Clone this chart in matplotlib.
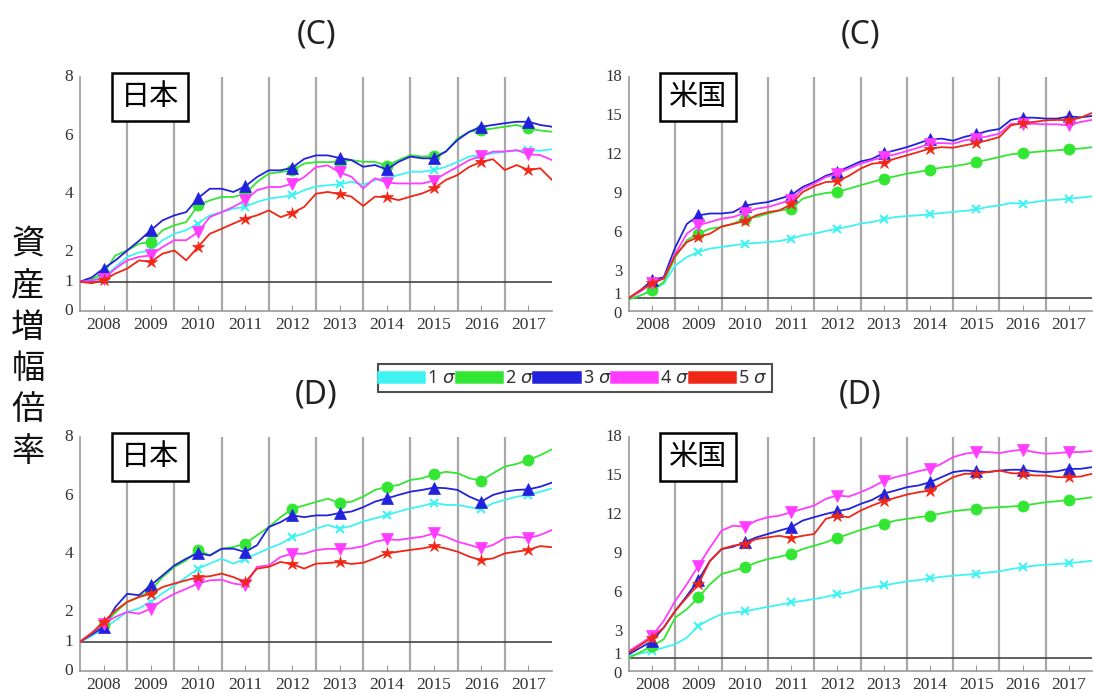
import numpy as np
import matplotlib
matplotlib.use("Agg")
import matplotlib.pyplot as plt
from matplotlib.lines import Line2D
from matplotlib import font_manager

# ---------------- data (quarterly readings, 2007.5 .. 2017.5) ----------------
years = [2007.5 + 0.25 * i for i in range(41)]
year_ticks = [2008, 2009, 2010, 2011, 2012, 2013, 2014, 2015, 2016, 2017]
series_labels = ["1σ", "2σ", "3σ", "4σ", "5σ"]

# (C) Japan
jp_c_1 = [1.0, 1.08, 1.16, 1.5, 1.85, 2.0, 2.07, 2.42, 2.64, 2.76, 2.99, 3.27, 3.38, 3.5,
          3.56, 3.73, 3.84, 3.9, 3.95, 4.13, 4.26, 4.3, 4.33, 4.42, 4.31, 4.48, 4.54, 4.65,
          4.76, 4.76, 4.82, 4.93, 5.1, 5.28, 5.33, 5.39, 5.45, 5.48, 5.5, 5.48, 5.53]
jp_c_2 = [1.0, 1.1, 1.28, 1.9, 2.07, 2.3, 2.36, 2.76, 2.93, 3.04, 3.61, 3.78, 3.9, 3.9,
          4.01, 4.41, 4.7, 4.75, 4.81, 5.04, 5.09, 5.09, 5.1, 5.16, 5.1, 5.1, 4.96, 5.16,
          5.33, 5.28, 5.3, 5.45, 5.9, 6.13, 6.19, 6.24, 6.3, 6.36, 6.24, 6.17, 6.13]
jp_c_3 = [1.0, 1.15, 1.45, 1.73, 2.07, 2.4, 2.76, 3.1, 3.27, 3.38, 3.86, 4.18, 4.18, 4.07,
          4.26, 4.58, 4.81, 4.81, 4.9, 5.2, 5.32, 5.32, 5.23, 5.16, 4.93, 4.99, 4.84, 5.1,
          5.28, 5.22, 5.22, 5.45, 5.85, 6.13, 6.3, 6.36, 6.42, 6.47, 6.47, 6.36, 6.3]
jp_c_4 = [1.0, 1.05, 1.1, 1.45, 1.73, 1.85, 1.9, 2.19, 2.42, 2.42, 2.7, 3.21, 3.38, 3.56,
          3.78, 4.13, 4.24, 4.24, 4.35, 4.58, 4.92, 4.98, 4.74, 4.59, 4.19, 4.54, 4.39, 4.36,
          4.36, 4.36, 4.46, 4.71, 4.93, 5.16, 5.3, 5.45, 5.45, 5.5, 5.36, 5.33, 5.16]
jp_c_5 = [1.0, 0.95, 1.05, 1.28, 1.45, 1.73, 1.68, 1.96, 2.07, 1.73, 2.19, 2.64, 2.81, 2.99,
          3.16, 3.27, 3.44, 3.21, 3.35, 3.56, 4.01, 4.07, 4.0, 3.91, 3.59, 3.91, 3.89, 3.79,
          3.91, 4.02, 4.19, 4.48, 4.65, 4.93, 5.1, 5.19, 4.82, 4.99, 4.82, 4.88, 4.48]

# (C) USA
us_c_1 = [0.9, 1.2, 1.6, 2.1, 3.5, 4.15, 4.54, 4.8, 4.92, 5.05, 5.18, 5.23, 5.3, 5.38,
          5.56, 5.82, 5.95, 6.15, 6.33, 6.5, 6.72, 6.85, 7.05, 7.23, 7.3, 7.36, 7.44, 7.54,
          7.62, 7.7, 7.82, 8.0, 8.13, 8.3, 8.26, 8.38, 8.5, 8.56, 8.64, 8.72, 8.82]
us_c_2 = [0.9, 1.2, 1.6, 2.23, 4.15, 5.44, 5.95, 6.33, 6.46, 6.72, 7.1, 7.23, 7.49, 7.74,
          7.82, 8.64, 8.9, 9.08, 9.15, 9.41, 9.67, 9.92, 10.18, 10.36, 10.56, 10.7, 10.87, 11.03,
          11.13, 11.28, 11.46, 11.64, 11.85, 12.05, 12.15, 12.23, 12.3, 12.36, 12.44, 12.5, 12.6]
us_c_3 = [1.0, 1.6, 2.36, 2.6, 4.9, 6.7, 7.36, 7.5, 7.5, 7.6, 8.1, 8.26, 8.38, 8.64,
          8.9, 9.54, 9.92, 10.4, 10.7, 11.1, 11.5, 11.7, 12.15, 12.36, 12.6, 12.9, 13.2, 13.26,
          13.1, 13.4, 13.6, 13.85, 14.0, 14.7, 14.87, 14.87, 14.8, 14.8, 14.97, 14.9, 15.0]
us_c_4 = [1.0, 1.5, 2.15, 2.5, 4.4, 5.95, 6.6, 6.85, 7.1, 7.23, 7.54, 7.87, 8.0, 8.26,
          8.56, 9.4, 9.8, 10.3, 10.56, 10.95, 11.33, 11.6, 11.85, 12.05, 12.3, 12.56, 12.87, 12.92,
          12.87, 13.13, 13.26, 13.44, 13.64, 14.4, 14.4, 14.4, 14.36, 14.36, 14.28, 14.54, 14.7]
us_c_5 = [1.0, 1.6, 2.15, 2.5, 4.28, 5.3, 5.7, 5.95, 6.5, 6.7, 6.92, 7.36, 7.6, 7.74,
          8.2, 9.15, 9.6, 9.92, 9.97, 10.4, 10.95, 11.33, 11.42, 11.72, 11.97, 12.23, 12.5, 12.6,
          12.56, 12.74, 12.92, 13.13, 13.38, 14.28, 14.46, 14.54, 14.67, 14.7, 14.67, 14.87, 15.23]

# (D) Japan
jp_d_1 = [1.0, 1.2, 1.45, 1.73, 2.02, 2.14, 2.37, 2.66, 2.93, 3.21, 3.5, 3.67, 3.84, 3.67,
          3.84, 4.01, 4.19, 4.35, 4.58, 4.7, 4.87, 4.99, 4.87, 4.96, 5.11, 5.22, 5.33, 5.45,
          5.56, 5.64, 5.75, 5.68, 5.68, 5.6, 5.53, 5.73, 5.85, 5.96, 6.02, 6.13, 6.24]
jp_d_2 = [1.0, 1.25, 1.56, 2.0, 2.36, 2.53, 2.76, 3.21, 3.56, 3.78, 4.13, 3.95, 4.18, 4.24,
          4.35, 4.64, 4.92, 5.26, 5.55, 5.66, 5.78, 5.89, 5.74, 5.79, 5.96, 6.19, 6.3, 6.36,
          6.53, 6.59, 6.72, 6.81, 6.76, 6.59, 6.51, 6.76, 6.99, 7.08, 7.21, 7.38, 7.58]
jp_d_3 = [1.0, 1.25, 1.5, 2.19, 2.64, 2.59, 2.93, 3.27, 3.61, 3.84, 4.03, 3.95, 4.18, 4.18,
          4.07, 4.3, 4.92, 5.09, 5.32, 5.26, 5.32, 5.32, 5.4, 5.45, 5.6, 5.79, 5.9, 6.02,
          6.13, 6.19, 6.27, 6.25, 6.19, 5.96, 5.79, 6.02, 6.13, 6.19, 6.21, 6.3, 6.44]
jp_d_4 = [1.0, 1.3, 1.62, 1.85, 2.02, 1.96, 2.13, 2.42, 2.64, 2.81, 2.99, 3.1, 3.12, 2.99,
          2.93, 3.56, 3.61, 3.9, 4.01, 4.01, 4.13, 4.18, 4.17, 4.19, 4.27, 4.42, 4.5, 4.48,
          4.54, 4.59, 4.71, 4.59, 4.42, 4.31, 4.19, 4.31, 4.54, 4.59, 4.54, 4.65, 4.82]
jp_d_5 = [1.0, 1.3, 1.68, 2.07, 2.36, 2.53, 2.64, 2.87, 2.99, 3.1, 3.21, 3.24, 3.33, 3.21,
          3.04, 3.5, 3.56, 3.73, 3.65, 3.5, 3.67, 3.69, 3.73, 3.66, 3.7, 3.85, 4.02, 4.08,
          4.14, 4.19, 4.27, 4.19, 4.08, 3.91, 3.79, 3.85, 4.02, 4.08, 4.14, 4.27, 4.23]

# (D) USA
us_d_1 = [1.16, 1.35, 1.54, 1.8, 2.06, 2.57, 3.47, 3.98, 4.37, 4.5, 4.58, 4.76, 4.94, 5.09,
          5.27, 5.4, 5.53, 5.7, 5.91, 6.04, 6.3, 6.43, 6.58, 6.74, 6.89, 6.99, 7.12, 7.25,
          7.33, 7.4, 7.46, 7.58, 7.66, 7.84, 7.97, 8.1, 8.17, 8.23, 8.3, 8.38, 8.48]
us_d_2 = [1.03, 1.45, 1.93, 2.44, 4.11, 4.76, 5.66, 6.68, 7.46, 7.71, 7.97, 8.35, 8.61, 8.79,
          9.0, 9.38, 9.64, 9.9, 10.23, 10.54, 10.85, 11.1, 11.31, 11.57, 11.7, 11.83, 11.95, 12.13,
          12.29, 12.39, 12.47, 12.55, 12.6, 12.65, 12.73, 12.85, 12.98, 13.06, 13.16, 13.24, 13.37]
us_d_3 = [1.29, 1.8, 2.31, 3.34, 4.63, 5.78, 7.0, 8.48, 9.38, 9.56, 9.9, 10.28, 10.54, 10.8,
          11.05, 11.57, 11.83, 12.08, 12.29, 12.47, 12.85, 13.16, 13.65, 13.88, 14.14, 14.27, 14.52, 14.91,
          15.3, 15.42, 15.37, 15.3, 15.42, 15.48, 15.48, 15.37, 15.3, 15.37, 15.55, 15.55, 15.68]
us_d_4 = [1.54, 2.1, 2.7, 3.86, 5.4, 6.68, 8.1, 9.5, 10.8, 11.18, 11.1, 11.57, 11.83, 11.95,
          12.21, 12.47, 12.72, 13.24, 13.5, 13.42, 13.75, 14.14, 14.62, 14.91, 15.12, 15.37, 15.55, 15.94,
          16.45, 16.71, 16.84, 16.84, 16.76, 16.92, 17.02, 16.84, 16.71, 16.76, 16.84, 16.84, 16.92]
us_d_5 = [1.41, 2.0, 2.57, 3.34, 4.63, 5.66, 6.68, 8.48, 9.38, 9.64, 9.77, 10.15, 10.28, 10.4,
          10.23, 10.4, 10.54, 11.7, 11.95, 11.83, 12.34, 12.73, 13.06, 13.32, 13.57, 13.75, 13.88, 14.4,
          14.91, 15.17, 15.17, 15.3, 15.42, 15.22, 15.17, 15.04, 15.04, 14.91, 14.91, 14.96, 15.17]

jp_yticks = [0, 1, 2, 4, 6, 8]
us_yticks = [0, 1, 3, 6, 9, 12, 15, 18]

# ---------------- style ----------------
colors = ["#3ff3f3", "#33e633", "#2222dd", "#ff3cff", "#f02616"]
markers = ["x", "o", "^", "v", "*"]
msizes = [6, 8, 8, 8, 9]

# pick an installed serif font for the tick numbers
installed = {f.name for f in font_manager.fontManager.ttflist}
serif_choices = [n for n in ["Liberation Serif", "DejaVu Serif"] if n in installed]
plt.rcParams["font.family"] = "serif"
plt.rcParams["font.serif"] = serif_choices + ["DejaVu Serif"]
serif_prop = font_manager.FontProperties(family=serif_choices[0] if serif_choices else "DejaVu Serif")
cjk = "Noto Sans CJK JP"
sans = "Noto Sans"

fig = plt.figure(figsize=(10.94, 6.93), dpi=100)
W, H = 1094, 693


def add_axes(left, right, top, bottom):
    return fig.add_axes([left / W, 1 - bottom / H, (right - left) / W, (bottom - top) / H])


panels = [
    (add_axes(80, 552, 77, 311), [jp_c_1, jp_c_2, jp_c_3, jp_c_4, jp_c_5], 8, jp_yticks, "日本"),
    (add_axes(629, 1092, 77, 311), [us_c_1, us_c_2, us_c_3, us_c_4, us_c_5], 18, us_yticks, "米国"),
    (add_axes(80, 552, 437, 671), [jp_d_1, jp_d_2, jp_d_3, jp_d_4, jp_d_5], 8, jp_yticks, "日本"),
    (add_axes(629, 1092, 437, 671), [us_d_1, us_d_2, us_d_3, us_d_4, us_d_5], 18, us_yticks, "米国"),
]

for ax, data, ymax, yt, country in panels:
    ax.set_xlim(2007.5, 2017.5)
    ax.set_ylim(0, ymax)
    for b in range(2008, 2017):
        ax.axvline(b + 0.5, color="#a8a8a8", lw=1.6, zorder=1)
    ax.axhline(1, color="#444444", lw=1.2, zorder=2)
    for vals, c, m, ms in zip(data, colors, markers, msizes):
        ax.plot(years, vals, color=c, lw=1.3, marker=m, markersize=ms,
                markevery=(2, 4), markeredgewidth=1.5 if m == "x" else 0.5,
                markeredgecolor=c, zorder=3)
    ax.set_xticks(year_ticks)
    ax.set_xticklabels([str(y) for y in year_ticks])
    ax.tick_params(axis="x", direction="in", length=4, color="#999999", pad=4,
                   labelsize=12.5, labelcolor="#333333")
    for lab in ax.get_xticklabels():
        lab.set_fontproperties(serif_prop)
        lab.set_fontsize(12.5)
    # y ticks: positions from the axis, labels placed next to them
    ax.set_yticks(yt)
    ax.set_yticklabels([])
    ax.tick_params(axis="y", length=0)
    close = ymax > 10
    fs = 12 if close else 12.5
    for v in yt:
        dy = 0
        if close and v == 1:
            dy = 2.5
        elif close and v == 0:
            dy = -2.5
        ax.annotate(str(v), xy=(0, v), xycoords=("axes fraction", "data"),
                    xytext=(-5, dy), textcoords="offset points", ha="right", va="center",
                    fontproperties=serif_prop, fontsize=fs, color="#333333",
                    annotation_clip=False)
    for s in ["top", "right"]:
        ax.spines[s].set_visible(False)
    for s in ["left", "bottom"]:
        ax.spines[s].set_color("#999999")
        ax.spines[s].set_linewidth(1.2)
    ax.text(0.149, 0.915, country, transform=ax.transAxes, ha="center", va="center",
            fontfamily=cjk, fontsize=21, color="black", zorder=5,
            bbox=dict(boxstyle="square,pad=0.3", fc="white", ec="black", lw=1.8))

# panel titles
for x, y, t in [(316, 35, "(C)"), (860, 35, "(C)"), (316, 395, "(D)"), (860, 395, "(D)")]:
    fig.text(x / W, 1 - y / H, t, ha="center", va="center", fontsize=23, color="#222222",
             fontfamily=sans)

# vertical y label (stacked characters)
ylabel = "資産増幅倍率"
for i, ch in enumerate(ylabel):
    fig.text(28 / W, 1 - (244 + i * 41.5) / H, ch, ha="center", va="center",
             fontfamily=cjk, fontsize=24, color="#111111")

# legend
handles = [Line2D([0], [0], color=c, lw=9) for c in colors]
labels = [s[0] + " " + r"$\sigma$" for s in series_labels]
leg = fig.legend(handles, labels, loc="center", bbox_to_anchor=(575 / W, 1 - 378 / H),
                 ncol=5, frameon=True, fancybox=False, handlelength=2.0,
                 handletextpad=0.45, columnspacing=0.25, borderpad=0.3, edgecolor="#222222",
                 prop={"family": sans, "size": 13})
leg.get_frame().set_linewidth(1.5)
for t in leg.get_texts():
    t.set_color("#333333")

fig.savefig("out.png", dpi=100)
